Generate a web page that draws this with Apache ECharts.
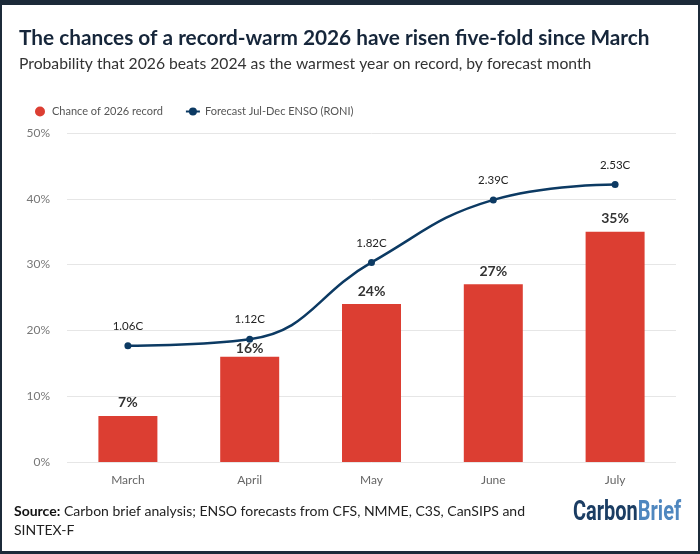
<!DOCTYPE html>
<html><head><meta charset="utf-8">
<script src="https://cdn.jsdelivr.net/npm/echarts@6/dist/echarts.min.js"></script>
<style>html,body{margin:0;padding:0;background:#fff}#c{width:700px;height:554px}</style>
</head><body><div id="c"></div>
<script>
const months = ['March','April','May','June','July'];
const chance = [7,16,24,27,35];
const enso = [1.06,1.12,1.82,2.39,2.53];
const yTicks = [0,10,20,30,40,50];

const F = 'Lato';
const chart = echarts.init(document.getElementById('c'));
const frame = '#1c2a39';
chart.setOption({
  animation:false,
  backgroundColor:'#fff',
  title:[{
    text:'The chances of a record-warm 2026 have risen five-fold since March',
    left:14, top:23,
    textStyle:{fontFamily:F,fontWeight:'bold',fontSize:20.8,color:'#16263a'}
  },{
    text:'Probability that 2026 beats 2024 as the warmest year on record, by forecast month',
    left:14, top:51,
    textStyle:{fontFamily:F,fontWeight:'normal',fontSize:15.7,color:'#333'}
  }],
  legend:{
    left:30, top:101, itemGap:22, itemWidth:14, itemHeight:10,
    textStyle:{fontFamily:F,fontSize:11,color:'#555'},
    data:[{name:'Chance of 2026 record',icon:'circle'},{name:'Forecast Jul-Dec ENSO (RONI)'}]
  },
  grid:{left:67,right:24,top:133,bottom:92},
  xAxis:{
    type:'category', data:months,
    axisLine:{show:false}, axisTick:{show:false},
    axisLabel:{fontFamily:F,fontSize:12,color:'#666',margin:12}
  },
  yAxis:[{
    type:'value', min:0, max:50, interval:10,
    axisLabel:{fontFamily:F,fontSize:12,color:'#777',formatter:v=>yTicks.includes(v)?v+'%':'',margin:17},
    splitLine:{lineStyle:{color:'#e6e6e6',width:1}},
    axisLine:{show:false}, axisTick:{show:false}
  },{
    type:'value', min:0, max:3, show:false, splitLine:{show:false}
  }],
  series:[{
    name:'Chance of 2026 record', type:'bar', barWidth:59,
    data:chance.map((v,i)=>i===1?{value:v,label:{distance:1}}:v),
    itemStyle:{color:'#dc3e32'},
    label:{show:true,position:'top',distance:6,formatter:'{c}%',fontFamily:F,fontWeight:'bold',fontSize:14,color:'#333'}
  },{
    name:'Forecast Jul-Dec ENSO (RONI)', type:'line', yAxisIndex:1, data:enso,
    smooth:0.45, symbol:'circle', symbolSize:7,
    lineStyle:{color:'#0c3a63',width:2.5}, itemStyle:{color:'#0c3a63'},
    label:{show:true,position:'top',distance:10,formatter:p=>p.value.toFixed(2)+'C',fontFamily:F,fontSize:11.5,color:'#222'},
    z:5
  }],
  graphic:[
    {type:'rect',shape:{x:0,y:0,width:700,height:5},style:{fill:frame},silent:true},
    {type:'rect',shape:{x:0,y:0,width:2,height:554},style:{fill:frame},silent:true},
    {type:'rect',shape:{x:698,y:0,width:2,height:554},style:{fill:frame},silent:true},
    {type:'rect',shape:{x:0,y:551,width:700,height:3},style:{fill:frame},silent:true},
    {type:'text',left:14,top:502,style:{
      text:'{b|Source:} Carbon brief analysis; ENSO forecasts from CFS, NMME, C3S, CanSIPS and\nSINTEX-F',
      rich:{b:{fontFamily:F,fontWeight:'bold',fontSize:14,fill:'#111'}},
      fontFamily:F,fontSize:14,fill:'#222',lineHeight:19
    }},
    {type:'text',x:573,y:500,scaleX:0.74,style:{
      text:'{a|Carbon}{b|Brief}',
      rich:{
        a:{fontFamily:'Roboto',fontWeight:'bold',fontSize:27,fill:'#1b3d63'},
        b:{fontFamily:'Roboto',fontWeight:'bold',fontSize:27,fill:'#4f87bf'}
      }
    }}
  ]
});
</script></body></html>
